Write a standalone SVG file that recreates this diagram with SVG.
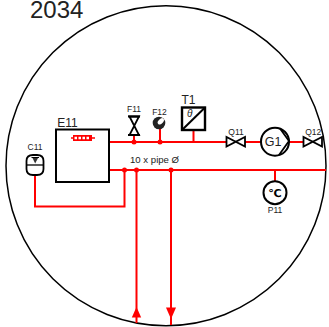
<svg xmlns="http://www.w3.org/2000/svg" width="329" height="327" viewBox="0 0 329 327">
<style>
text{font-family:"Liberation Sans",Arial,sans-serif;fill:#222}
.p{fill:none;stroke:#f00;stroke-width:2}
.r{fill:#f00}
.k{fill:#fff;stroke:#000;stroke-width:2}
.v{fill:#fff;stroke:#000;stroke-width:1.800}
.s{font-size:8.500px;text-anchor:middle}
</style>
<circle id="boundary" cx="166" cy="165.700" r="160" fill="none" stroke="#000" stroke-width="1.500"/>
<text id="title" x="30" y="18" font-size="24">2034</text>
<g id="connectors">
<path class="p" d="M109 142H227M245 142H261M289 142H303M109 170H326M124.500 170V206.500H35V175M136.500 170V323M171 170V325M134 142V135M160 142V129M193.500 142V130M275 170V182"/>
<circle class="r" cx="134" cy="142" r="2.500"/><circle class="r" cx="160" cy="142" r="2.500"/>
<circle class="r" cx="124.500" cy="170" r="2.500"/><circle class="r" cx="136.500" cy="170" r="2.500"/><circle class="r" cx="171" cy="170" r="2.500"/>
<path class="r" d="M136.500 307L131.800 317.500H141.200Z"/>
<path class="r" d="M171 319L166 307.500H176Z"/>
</g>
<g id="E11"><rect class="k" x="56" y="129.500" width="53" height="52.500"/>
<text x="57.300" y="126.700" font-size="12">E11</text>
<path d="M71 138H95" stroke="#f00" stroke-width="1.500"/><rect x="73" y="135" width="19" height="6" fill="#f00"/>
<path d="M74.500 136.800h2.500v2.400h-2.500zM78.500 136.800h2.500v2.400h-2.500zM82.500 136.800h2.500v2.400h-2.500zM86.500 136.800h2.500v2.400h-2.500z" fill="#fff"/></g>
<g id="C11"><path d="M26.500 161Q26.500 155 33 155H37Q43.500 155 43.500 161V169Q43.500 175 37 175H33Q26.500 175 26.500 169Z" fill="#fff" stroke="#000" stroke-width="1.800"/>
<path d="M26.500 165H43.500" stroke="#000" stroke-width="1.300"/><path d="M31.500 157.500H39" stroke="#000"/><path d="M32.500 158L35.200 163.500L38 158Z" fill="#333"/>
<text class="s" x="35" y="150">C11</text></g>
<g id="F11"><path class="v" stroke-width="2" d="M129.500 116.500L139 135H129.500L139 116.500Z"/><path d="M128 116.500H140M128 135H140" stroke="#000" stroke-width="2"/>
<text class="s" x="134" y="111.700">F11</text></g>
<g id="F12"><circle cx="159" cy="123" r="6.300" fill="#222"/><ellipse cx="160.800" cy="121.300" rx="3.700" ry="2.300" transform="rotate(-45 160.800 121.300)" fill="#fff"/>
<text class="s" x="159.500" y="115">F12</text></g>
<g id="T1"><rect x="182" y="107.500" width="23" height="22.500" fill="#fff" stroke="#000" stroke-width="2.400"/><path d="M182 130L205 107.500" stroke="#000" stroke-width="2"/>
<text x="187" y="116.700" font-size="10" font-style="italic">θ</text>
<text x="181.500" y="104" font-size="12">T1</text></g>
<g id="Q11"><path class="v" d="M226.500 137V146.500L245 137V146.500Z"/>
<text class="s" x="236" y="135">Q11</text></g>
<g id="G1"><circle cx="275" cy="141.700" r="14" fill="#fff" stroke="#000" stroke-width="2"/><path d="M280 128.500L289 141L279 155" fill="none" stroke="#000" stroke-width="1.800"/>
<text x="273" y="146.200" font-size="12.500" text-anchor="middle">G1</text></g>
<g id="Q12"><path class="v" d="M303.500 137V146.500L322 137V146.500Z"/>
<text class="s" x="313.300" y="134.500">Q12</text></g>
<g id="P11"><circle cx="275" cy="192.700" r="11.500" fill="#fff" stroke="#000" stroke-width="2"/>
<text x="275" y="197" font-size="11" font-weight="bold" text-anchor="middle" style="font-family:'DejaVu Sans',sans-serif;fill:#000">℃</text>
<text class="s" x="275" y="213.300">P11</text></g>
<text id="pipe" x="130" y="163" font-size="9.600">10 x pipe Ø</text>
</svg>
